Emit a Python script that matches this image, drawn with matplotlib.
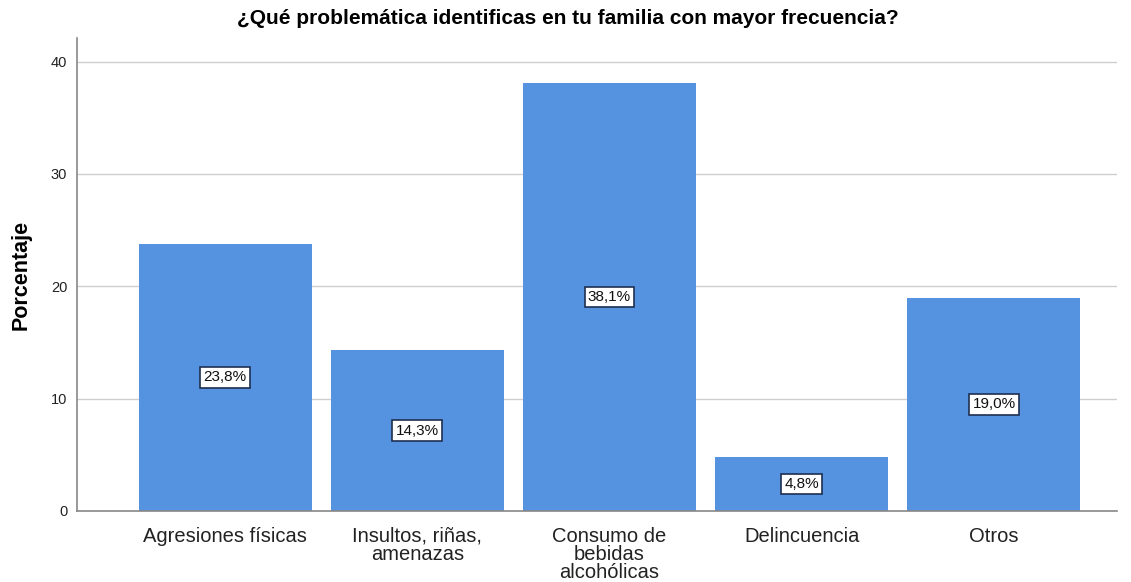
import numpy as np
import matplotlib.pyplot as plt

plt.rcParams['font.family'] = ['Liberation Sans', 'DejaVu Sans']

categorias = ['Agresiones físicas', 'Insultos, riñas,\namenazas', 'Consumo de\nbebidas\nalcohólicas',
              'Delincuencia', 'Otros']
porcentajes = [23.8, 14.3, 38.1, 4.8, 19.0]
etiquetas = ['23,8%', '14,3%', '38,1%', '4,8%', '19,0%']

fig = plt.figure(figsize=(11.31, 5.82), dpi=100)
ax = fig.add_axes([0.0681, 0.122, 0.9195, 0.8127])

x = np.arange(len(categorias))
ax.bar(x, porcentajes, width=0.9, color='#5593E0', zorder=2)

for xi, v, t in zip(x, porcentajes, etiquetas):
    ax.text(xi, v / 2, t, ha='center', va='center', fontsize=11, color='#111111', zorder=3,
            bbox=dict(boxstyle='square,pad=0.22', fc='white', ec='#1f2f4f', lw=1.2))

ax.set_xlim(-0.77, 4.64)
ax.set_ylim(0, 42.1)
ax.set_yticks([0, 10, 20, 30, 40])
ax.set_xticks(x)
ax.set_xticklabels(categorias, fontsize=14.5, color='#222222', linespacing=0.92)
ax.tick_params(axis='y', labelsize=10.5, length=0, pad=7, colors='#222222')
ax.tick_params(axis='x', length=0, pad=11.5)
ax.grid(axis='y', color='#cfcfcf', lw=1, zorder=0)

for s in ['top', 'right']:
    ax.spines[s].set_visible(False)
for s in ['left', 'bottom']:
    ax.spines[s].set_color('#888888')
    ax.spines[s].set_linewidth(1.2)

ax.set_ylabel('Porcentaje', fontsize=15.5, fontweight='bold', labelpad=14)
# titulo centrado en la figura, no en el eje
ax.set_title('¿Qué problemática identificas en tu familia con mayor frecuencia?',
             fontsize=15, fontweight='bold', pad=10, x=0.4716)

fig.savefig('out.png', dpi=100)
